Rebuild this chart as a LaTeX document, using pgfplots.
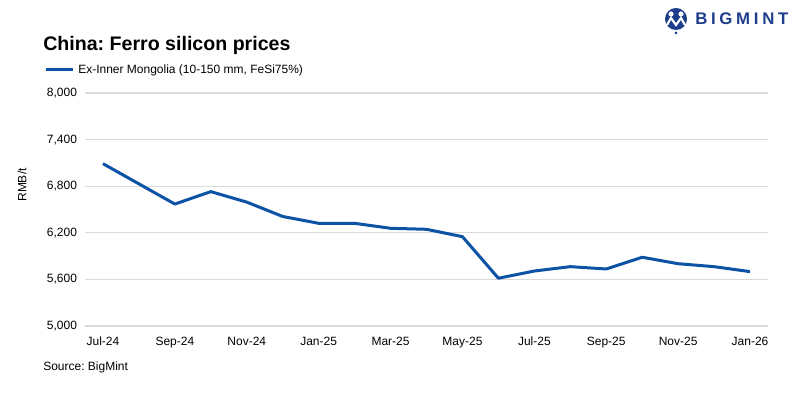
\documentclass[border=0pt]{standalone}
\usepackage{fontspec}
\setmainfont{Liberation Sans}
\newfontfamily\logofont[LetterSpace=22]{Liberation Sans}
\usepackage{pgfplots}
\pgfplotsset{compat=1.18}
\definecolor{lineblue}{RGB}{12,82,165}
\definecolor{logoblue}{RGB}{30,62,140}
\definecolor{gridgray}{RGB}{217,217,217}
\frenchspacing
\begin{document}
\begin{tikzpicture}[x=0.75pt,y=0.75pt]
\path[use as bounding box] (0,0) rectangle (800,399);
\begin{axis}[
  at={(63.75pt,54.75pt)}, anchor=south west,
  scale only axis, width=512.25pt, height=174.75pt,
  xmin=-0.5, xmax=18.5, ymin=5000, ymax=8000,
  axis lines*=left, separate axis lines,
  y axis line style={draw=none},
  x axis line style={gridgray, line width=0.9pt},
  ytick={5000,5600,...,8000},
  ymajorgrids, grid style={gridgray, line width=0.9pt},
  ytick style={draw=none},
  yticklabel style={font=\fontsize{9}{10}\selectfont, anchor=east, xshift=-2.5pt},
  /pgf/number format/assume math mode=true,
  /pgf/number format/1000 sep={,},
  xtick={0,2,...,18},
  xticklabels={Jul-24,Sep-24,Nov-24,Jan-25,Mar-25,May-25,Jul-25,Sep-25,Nov-25,Jan-26},
  xtick style={draw=none},
  xticklabel style={font=\fontsize{9}{10}\selectfont, yshift=-4.5pt},
  extra x ticks={-0.5,0.5,...,18.5},
  extra x tick labels={},
  extra x tick style={tick style={draw=gridgray, line width=0.9pt}, major tick length=3pt, tick align=outside, xmajorgrids=false},
  clip=false,
]
\addplot[lineblue, line width=2.25pt, line join=round] coordinates {
(0,7090) (1,6830) (2,6570) (3,6730) (4,6595) (5,6410) (6,6322) (7,6322)
(8,6258) (9,6245) (10,6150) (11,5615) (12,5708) (13,5764) (14,5734)
(15,5885) (16,5802) (17,5764) (18,5700)
};
\end{axis}
% title
\node[anchor=base west, inner sep=0, font=\bfseries\fontsize{14.7}{16}\selectfont] at (43,348) {China: Ferro silicon prices};
% legend
\draw[lineblue, line width=2.25pt] (46,329) -- (73,329);
\node[anchor=west, inner sep=0, font=\fontsize{9}{10}\selectfont] at (78,329) {Ex-Inner Mongolia (10-150 mm, FeSi75\%)};
% y label
\node[rotate=90, inner sep=0, font=\fontsize{9}{10}\selectfont] at (22,214) {RMB/t};
% source
\node[anchor=base west, inner sep=0, font=\fontsize{9}{10}\selectfont] at (43,28) {Source: BigMint};
% logo
\fill[logoblue] (676,380) circle (11);
\fill[white] (671,385) circle (2.6);
\fill[white] (681,385) circle (2.6);
\draw[white, line width=1.6pt] (667,374) -- (671,381) -- (676,374) -- (681,381) -- (685,374);
\fill[logoblue] (676,366) circle (1.5);
\node[anchor=west, inner sep=0, text=logoblue, font=\logofont\bfseries\fontsize{12.6}{14}\selectfont] at (695,380) {BIGMINT};
\end{tikzpicture}
\end{document}
